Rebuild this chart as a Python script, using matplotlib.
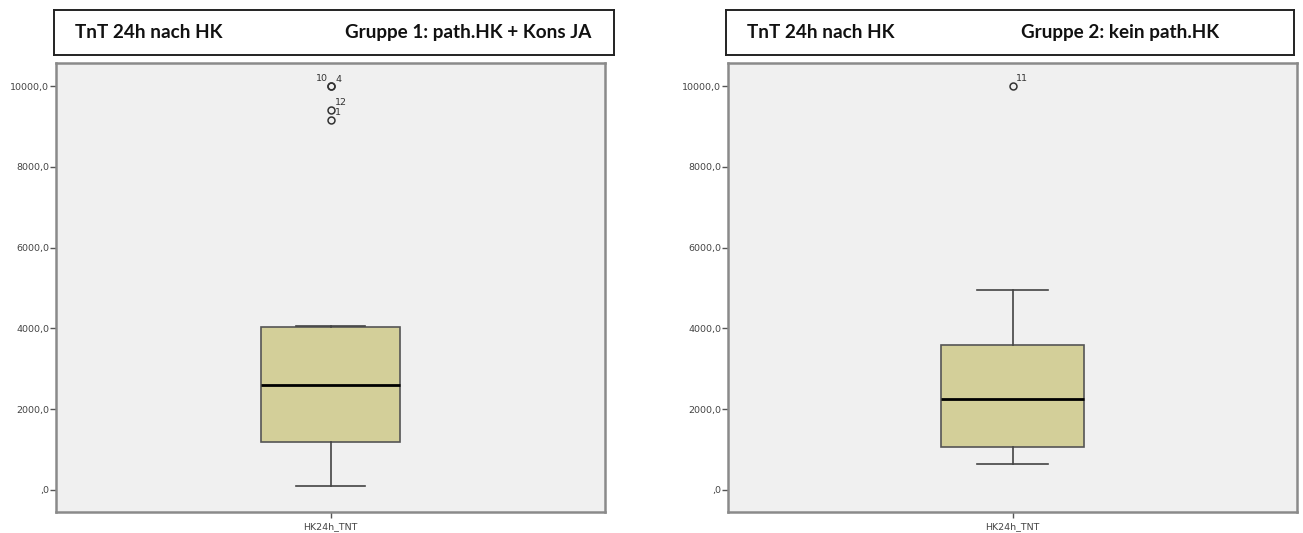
import matplotlib.pyplot as plt

W, H = 1303, 533

# box statistics for the two groups (TnT 24h after HK)
groups = ["Gruppe 1: path.HK + Kons JA", "Gruppe 2: kein path.HK"]
q1 = [1190, 1070]
med = [2600, 2250]
q3 = [4040, 3590]
whislo = [100, 640]
whishi = [4070, 4940]
fliers = [[10000, 10000, 9400, 9150], [10000]]
# case numbers written next to the outliers: (value, label, dx px, dy px)
flier_labels = [
    [(10000, "10", -9, 8), (10000, "4", 8, 7), (9400, "12", 10, 8), (9400, "1", 7, -2)],
    [(10000, "11", 9, 8)],
]
var_name = "HK24h_TNT"
yticks = [0, 2000, 4000, 6000, 8000, 10000]
ytick_labels = [",0", "2000,0", "4000,0", "6000,0", "8000,0", "10000,0"]

# panel geometry in pixels: title box and plot frame
title_boxes = [(54, 10, 614, 55), (726, 10, 1294, 55)]
frames = [(56, 63, 605, 512), (728, 63, 1297, 512)]
box_width = [0.253, 0.25]

fig = plt.figure(figsize=(W / 100, H / 100), dpi=100)
fig.patch.set_facecolor("white")


def px_axes(x0, y0, x1, y1):
    return fig.add_axes([x0 / W, 1 - y1 / H, (x1 - x0) / W, (y1 - y0) / H])


for i in range(2):
    # header box
    tb = px_axes(*title_boxes[i])
    tb.set_xticks([])
    tb.set_yticks([])
    for s in tb.spines.values():
        s.set_color("#222222")
        s.set_linewidth(1.4)
    tb.text(0.037, 0.5, "TnT 24h nach HK", transform=tb.transAxes, ha="left", va="center",
            fontsize=13.6, fontweight="bold", family="Lato", color="#111111")
    tb.text(0.52, 0.5, groups[i], transform=tb.transAxes, ha="left", va="center",
            fontsize=13.6, fontweight="bold", family="Lato", color="#111111")

    ax = px_axes(*frames[i])
    ax.set_facecolor("#f0f0f0")
    stats = [dict(med=med[i], q1=q1[i], q3=q3[i], whislo=whislo[i], whishi=whishi[i],
                  fliers=fliers[i], label=var_name)]
    ax.bxp(stats, positions=[1], widths=box_width[i], patch_artist=True,
           boxprops=dict(facecolor="#d3cf99", edgecolor="#555555", linewidth=1.2),
           medianprops=dict(color="black", linewidth=2),
           whiskerprops=dict(color="#444444", linewidth=1.2),
           capprops=dict(color="#444444", linewidth=1.2),
           capwidths=box_width[i] / 2,
           flierprops=dict(marker="o", markersize=5, markerfacecolor="none",
                           markeredgecolor="#333333", markeredgewidth=1.1))
    for val, lab, dx, dy in flier_labels[i]:
        ax.annotate(lab, (1, val), xytext=(dx, dy), textcoords="offset pixels",
                    ha="center", va="center", fontsize=6.8, color="#333333")

    ax.set_xlim(0.5, 1.5)
    ax.set_ylim(-545, 10570)
    ax.set_yticks(yticks)
    ax.set_yticklabels(ytick_labels)
    ax.tick_params(axis="y", length=4, width=1, color="#555555", labelsize=6.8,
                   labelcolor="#444444", pad=1)
    ax.tick_params(axis="x", length=4, width=1, color="#555555", labelsize=6.8,
                   labelcolor="#444444", pad=3)
    for s in ax.spines.values():
        s.set_color("#8a8a8a")
        s.set_linewidth(1.8)

fig.savefig("out.png", dpi=100)
